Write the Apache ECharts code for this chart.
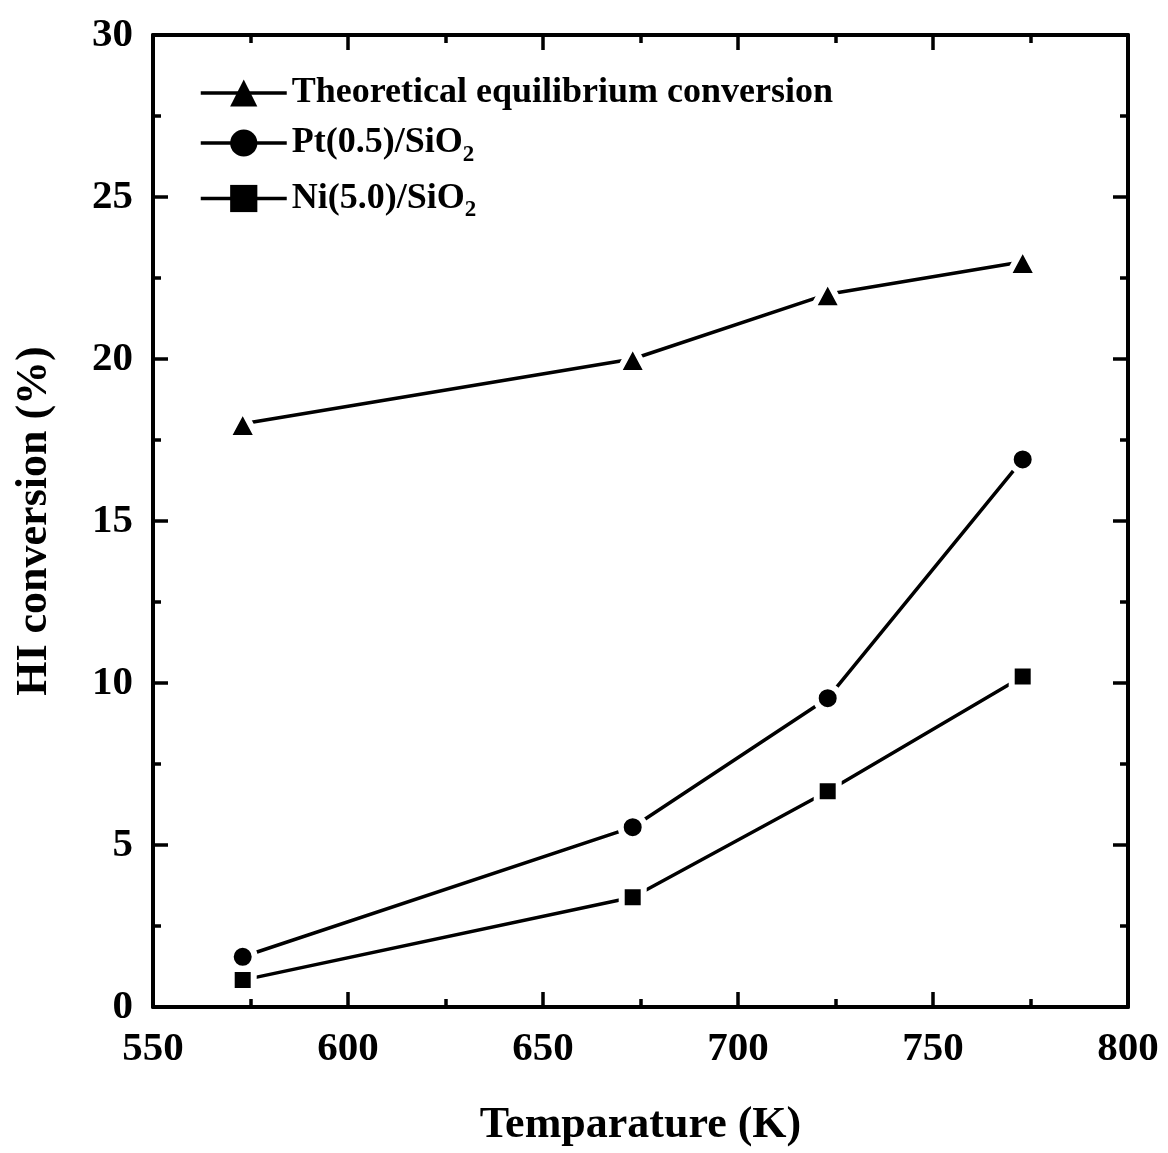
<!DOCTYPE html>
<html><head><meta charset="utf-8">
<script src="https://cdn.jsdelivr.net/npm/echarts@6/dist/echarts.min.js"></script>
<style>html,body{margin:0;padding:0;background:#fff}#c{width:1168px;height:1153px}</style>
</head><body><div id="c"></div>
<script>
const temperatures = [573, 673, 723, 773];
const seriesNames = ['Theoretical equilibrium conversion', 'Pt(0.5)/SiO2', 'Ni(5.0)/SiO2'];
const theoretical = [18.0, 20.0, 22.0, 23.0];
const ptSiO2 = [1.55, 5.55, 9.53, 16.9];
const niSiO2 = [0.83, 3.39, 6.66, 10.2];
const xTicks = [550, 600, 650, 700, 750, 800];
const yTicks = [0, 5, 10, 15, 20, 25, 30];

const FONT = '"Liberation Serif", "Times New Roman", serif';
const pairs = v => temperatures.map((t, i) => [t, v[i]]);

const axisCommon = {
  axisLine: {show: true, onZero: false, lineStyle: {color: '#000', width: 4}},
  axisTick: {show: true, inside: true, length: 15, lineStyle: {color: '#000', width: 3.5}},
  minorTick: {show: true, splitNumber: 2, length: 8, lineStyle: {color: '#000', width: 3.5}},
  splitLine: {show: false}
};

function mkSeries(name, data, symbol, size) {
  return {
    name, type: 'line', data: pairs(data), symbol, symbolSize: size,
    lineStyle: {color: '#000', width: 3.5},
    itemStyle: {color: '#000', borderColor: '#fff', borderWidth: 6},
    z: 3
  };
}

const chart = echarts.init(document.getElementById('c'), null, {renderer: 'canvas'});
chart.setOption({
  backgroundColor: '#fff',
  animation: false,
  grid: {left: 153, right: 40, top: 35, bottom: 145},
  legend: {
    orient: 'vertical', left: 194, top: 70, itemGap: 14,
    itemWidth: 86, itemHeight: 34,
    data: seriesNames,
    lineStyle: {width: 3.5, color: '#000'},
    itemStyle: {borderWidth: 0},
    formatter: n => n.replace('SiO2', 'SiO{sub|2}'),
    textStyle: {
      fontFamily: FONT, fontWeight: 'bold', fontSize: 36, color: '#000',
      rich: {sub: {fontFamily: FONT, fontWeight: 'bold', fontSize: 23, color: '#000', padding: [24, 0, 0, 0]}}
    }
  },
  xAxis: [
    Object.assign({}, axisCommon, {
      type: 'value', position: 'bottom', min: xTicks[0], max: xTicks[xTicks.length - 1], interval: 50,
      axisLabel: {fontFamily: FONT, fontWeight: 'bold', fontSize: 41, color: '#000', margin: 22},
      name: 'Temparature (K)', nameLocation: 'middle', nameGap: 97,
      nameTextStyle: {fontFamily: FONT, fontWeight: 'bold', fontSize: 44, color: '#000'}
    }),
    Object.assign({}, axisCommon, {
      type: 'value', position: 'top', min: xTicks[0], max: xTicks[xTicks.length - 1], interval: 50,
      axisLabel: {show: false}
    })
  ],
  yAxis: [
    Object.assign({}, axisCommon, {
      type: 'value', position: 'left', min: yTicks[0], max: yTicks[yTicks.length - 1], interval: 5,
      axisLabel: {fontFamily: FONT, fontWeight: 'bold', fontSize: 41, color: '#000', margin: 20},
      name: 'HI conversion (%)', nameLocation: 'middle', nameGap: 96,
      nameTextStyle: {fontFamily: FONT, fontWeight: 'bold', fontSize: 44, color: '#000'}
    }),
    Object.assign({}, axisCommon, {
      type: 'value', position: 'right', min: yTicks[0], max: yTicks[yTicks.length - 1], interval: 5,
      axisLabel: {show: false}
    })
  ],
  series: [
    mkSeries(seriesNames[0], theoretical, 'triangle', [30, 28]),
    mkSeries(seriesNames[1], ptSiO2, 'circle', 24),
    mkSeries(seriesNames[2], niSiO2, 'rect', 22)
  ]
});
</script></body></html>
